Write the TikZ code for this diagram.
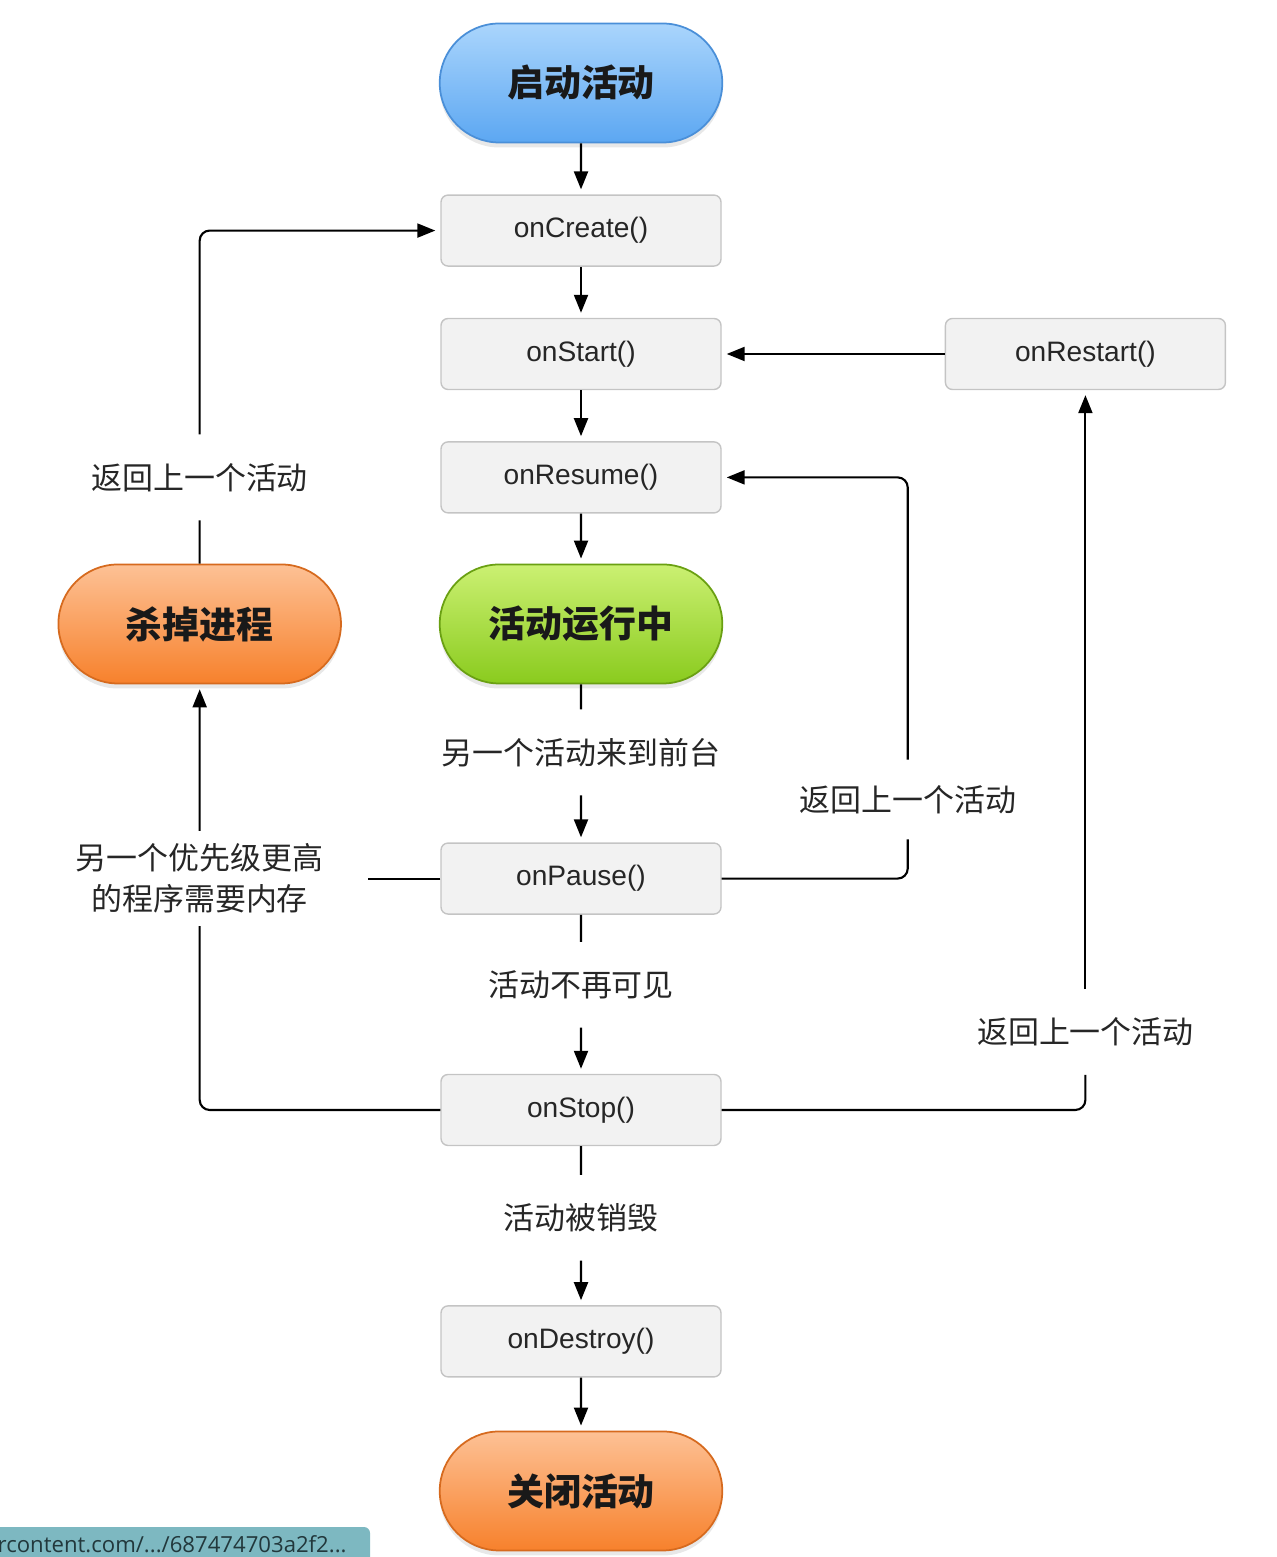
\documentclass[tikz,border=0pt]{standalone}
\usepackage{fontspec}
\setmainfont{Liberation Sans}
\newfontfamily\cjk{Noto Sans CJK SC}
\newfontfamily\urlfont{Open Sans}
\usepackage{tikz}
\usetikzlibrary{arrows.meta,calc,positioning,shapes.misc,shadows}

\definecolor{boxfill}{HTML}{F2F2F2}
\definecolor{boxline}{HTML}{C4C4C4}
\definecolor{bluetop}{HTML}{AAD5FC}
\definecolor{bluebot}{HTML}{5CA7F2}
\definecolor{blueline}{HTML}{4A8FD8}
\definecolor{greentop}{HTML}{CBF072}
\definecolor{greenbot}{HTML}{8ACB1E}
\definecolor{greenline}{HTML}{6AA012}
\definecolor{orangetop}{HTML}{FDC195}
\definecolor{orangebot}{HTML}{F7812C}
\definecolor{orangeline}{HTML}{D66A1E}
\definecolor{urltab}{HTML}{7DB8C1}
\definecolor{urltext}{HTML}{22383C}

\begin{document}
\begin{tikzpicture}[
node distance=0.51cm and 0.97cm,
term/.style={rounded rectangle, draw, line width=0.5pt, minimum width=3.06cm, minimum height=1.19cm, text=black!90,
  font=\cjk\bfseries\fontsize{10.5}{12}\selectfont,
  drop shadow={opacity=0.18, shadow xshift=0pt, shadow yshift=-0.05cm}},
termblue/.style={term, top color=bluetop, bottom color=bluebot, draw=blueline},
termgreen/.style={term, top color=greentop, bottom color=greenbot, draw=greenline},
termorange/.style={term, top color=orangetop, bottom color=orangebot, draw=orangeline},
cb/.style={draw=boxline, fill=boxfill, rounded corners=2pt, minimum width=2.80cm, minimum height=0.71cm, text=black!85, font=\fontsize{8}{10}\selectfont},
lbl/.style={font=\cjk\fontsize{8.8}{11.7}\selectfont, inner sep=0.28cm, align=center, text=black!85},
ln/.style={line width=0.6pt, rounded corners=0.1cm},
arr/.style={ln, -{Triangle[length=0.18cm,width=0.14cm]}, shorten >=0.05cm},
]
\useasboundingbox (0,0) rectangle (12.77,-15.57);

% main column
\node[termblue] (launch) at (5.81,-0.83) {启动活动};
\node[cb, below=of launch] (create) {onCreate()};
\node[cb, below=of create] (start) {onStart()};
\node[cb, below=of start] (resume) {onResume()};
\node[termgreen, below=0.50cm of resume] (running) {活动运行中};
\node[cb, below=1.58cm of running] (pause) {onPause()};
\node[cb, below=1.59cm of pause] (stop) {onStop()};
\node[cb, below=1.59cm of stop] (destroy) {onDestroy()};
\node[termorange, below=0.53cm of destroy] (shut) {关闭活动};

% side nodes
\node[termorange, left=of running] (kill) {杀掉进程};
\node[cb, right=2.23cm of start] (restart) {onRestart()};

% labels
\node[lbl] (backA) at (kill |- resume) {返回上一个活动};
\node[lbl] (fore) at ($(running.south)!.43!(pause.north)$) {另一个活动来到前台};
\coordinate (loopR) at ($(resume.east)+(1.86,0)$);
\node[lbl, inner ysep=0.25cm] (backB) at ($(loopR |- pause)+(0,0.79)$) {返回上一个活动};
\node[lbl, inner xsep=0.44cm, inner ysep=0.12cm] (memory) at (kill |- pause) {另一个优先级更高\\的程序需要内存};
\node[lbl] (hidden) at ($(pause.south)!.44!(stop.north)$) {活动不再可见};
\node[lbl] (backC) at ($(restart |- stop)+(0,0.78)$) {返回上一个活动};
\node[lbl] (gone) at ($(stop.south)!.45!(destroy.north)$) {活动被销毁};

% connectors
\draw[arr] (launch) -- (create);
\draw[arr] (create) -- (start);
\draw[arr] (start) -- (resume);
\draw[arr] (resume) -- (running);
\draw[ln] (running) -- (fore);
\draw[arr] (fore) -- (pause);
\draw[ln] (pause) -- (hidden);
\draw[arr] (hidden) -- (stop);
\draw[ln] (stop) -- (gone);
\draw[arr] (gone) -- (destroy);
\draw[arr] (destroy) -- (shut);
\draw[arr] (restart) -- (start);
\draw[ln] (pause.east) -| (backB);
\draw[arr] (backB) |- (resume.east);
\draw[ln] (stop.east) -| (backC);
\draw[arr] (backC) -- (restart);
\draw[ln] (stop.west) -| (memory);
\draw[arr] (memory) -- (kill);
\draw[ln] (pause.west) -- (pause.west -| memory.east);
\draw[ln] (kill) -- (backA);
\draw[arr] (backA) |- (create.west);

% browser tab at the bottom
\fill[urltab] (-0.1,-15.75) [rounded corners=0.06cm] -- (-0.1,-15.27) -- (3.70,-15.27) -- (3.70,-15.75) -- cycle;
\node[anchor=base west, inner sep=0, text=urltext, font=\urlfont\fontsize{6.3}{7}\selectfont] (url) at (-0.03,-15.52) {rcontent.com/.../687474703a2f2...};
\end{tikzpicture}
\end{document}
